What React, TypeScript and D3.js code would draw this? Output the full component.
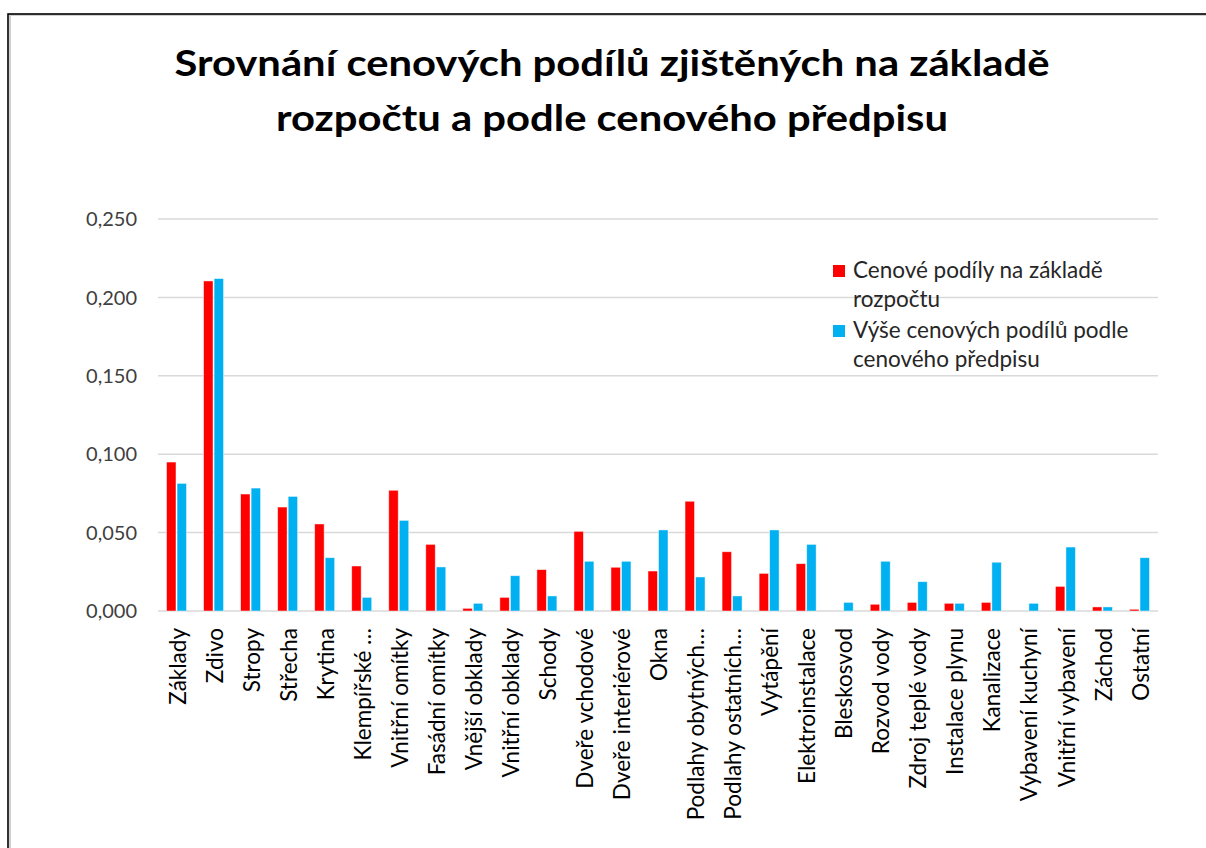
import React from "react";
import * as d3 from "d3";

const categories = [
  "Základy", "Zdivo", "Stropy", "Střecha", "Krytina", "Klempířské …",
  "Vnitřní omítky", "Fasádní omítky", "Vnější obklady", "Vnitřní obklady",
  "Schody", "Dveře vchodové", "Dveře interiérové", "Okna",
  "Podlahy obytných…", "Podlahy ostatních…", "Vytápění", "Elektroinstalace",
  "Bleskosvod", "Rozvod vody", "Zdroj teplé vody", "Instalace plynu",
  "Kanalizace", "Vybavení kuchyní", "Vnitřní vybavení", "Záchod", "Ostatní",
];

const rozpocet = [
  0.095, 0.2105, 0.0746, 0.0663, 0.0555, 0.0287, 0.077, 0.0425, 0.0017,
  0.0087, 0.0264, 0.0508, 0.0279, 0.0255, 0.07, 0.0378, 0.024, 0.0302,
  0, 0.0043, 0.0055, 0.0049, 0.0055, 0, 0.0157, 0.0026, 0.0011,
];

const predpis = [
  0.0814, 0.212, 0.0784, 0.0731, 0.034, 0.0087, 0.0578, 0.0281, 0.0049,
  0.0225, 0.0096, 0.0317, 0.0317, 0.0517, 0.0217, 0.0096, 0.0517, 0.0425,
  0.0055, 0.0317, 0.0187, 0.0049, 0.0311, 0.0049, 0.0408, 0.0026, 0.034,
];

const yTicks = [0, 0.05, 0.1, 0.15, 0.2, 0.25];

const seriesNames = [
  ["Cenové podíly na základě", "rozpočtu"],
  ["Výše cenových podílů podle", "cenového předpisu"],
];
const seriesKeys = ["rozpocet", "predpis"];
const colors = ["#FF0000", "#00B0F0"];

const titleLines = [
  "Srovnání cenových podílů zjištěných na základě",
  "rozpočtu a podle cenového předpisu",
];
const titleWidths = [875, 672];

const W = 1206;
const H = 848;
const plot = { left: 158, right: 1158, top: 219, bottom: 611 };
const FONT = "Lato, 'Open Sans', sans-serif";

export default function App() {
  const x0 = d3
    .scaleBand<string>()
    .domain(categories)
    .range([plot.left, plot.right])
    .paddingInner(0.46)
    .paddingOuter(0.23);
  const x1 = d3
    .scaleBand<string>()
    .domain(seriesKeys)
    .range([0, x0.bandwidth()])
    .paddingInner(0.1);
  const y = d3.scaleLinear().domain([0, 0.25]).range([plot.bottom, plot.top]);
  const fmt = (v: number) => d3.format(".3f")(v).replace(".", ",");
  const data = [rozpocet, predpis];

  return (
    <svg
      width={W}
      height={H}
      style={{ position: "absolute", left: 0, top: 0, background: "#fff" }}
      fontFamily={FONT}
    >
      <rect x={0} y={0} width={W} height={H} fill="#fff" />
      {/* chart border with shadow */}
      <rect x={10} y={15} width={W + 20} height={H + 20} fill="none" stroke="#d0d0d0" strokeWidth={2} />
      <rect x={8} y={14} width={W + 20} height={H + 20} fill="none" stroke="#000" strokeWidth={1.6} />

      {/* title */}
      {titleLines.map((t, i) => (
        <text
          key={i}
          x={612}
          y={76 + i * 55}
          textAnchor="middle"
          fontWeight="bold"
          fontSize={37}
          textLength={titleWidths[i]}
          lengthAdjust="spacingAndGlyphs"
          fill="#000"
        >
          {t}
        </text>
      ))}

      {/* gridlines */}
      {yTicks.map((t) => (
        <line
          key={t}
          x1={plot.left}
          x2={plot.right}
          y1={y(t)}
          y2={y(t)}
          stroke="#d9d9d9"
          strokeWidth={1.5}
        />
      ))}
      {yTicks.map((t) => (
        <text
          key={"l" + t}
          x={137}
          y={y(t)}
          dy="0.36em"
          textAnchor="end"
          fontSize={20}
          fill="#404040"
        >
          {fmt(t)}
        </text>
      ))}

      {/* bars */}
      {categories.map((c, i) => (
        <g key={c} transform={`translate(${x0(c)},0)`}>
          {seriesKeys.map((k, s) => {
            const v = data[s][i];
            if (v <= 0) return null;
            return (
              <rect
                key={k}
                x={x1(k)}
                y={y(v)}
                width={x1.bandwidth()}
                height={y(0) - y(v)}
                fill={colors[s]}
                stroke="#fff"
                strokeOpacity={0.6}
                strokeWidth={0.8}
              />
            );
          })}
        </g>
      ))}

      {/* category labels */}
      {categories.map((c) => {
        const cx = (x0(c) as number) + x0.bandwidth() / 2 + 1;
        return (
          <text
            key={"c" + c}
            transform={`translate(${cx},628) rotate(-90)`}
            dy="0.36em"
            textAnchor="end"
            fontSize={22.5}
            fill="#000"
          >
            {c}
          </text>
        );
      })}

      {/* legend */}
      {seriesNames.map((lines, s) => (
        <g key={"lg" + s} transform={`translate(833,${265 + s * 60})`}>
          <rect x={0} y={0} width={12} height={12} fill={colors[s]} />
          {lines.map((ln, j) => (
            <text key={j} x={20} y={13 + j * 29} fontSize={22.5} fill="#262626">
              {ln}
            </text>
          ))}
        </g>
      ))}
    </svg>
  );
}
